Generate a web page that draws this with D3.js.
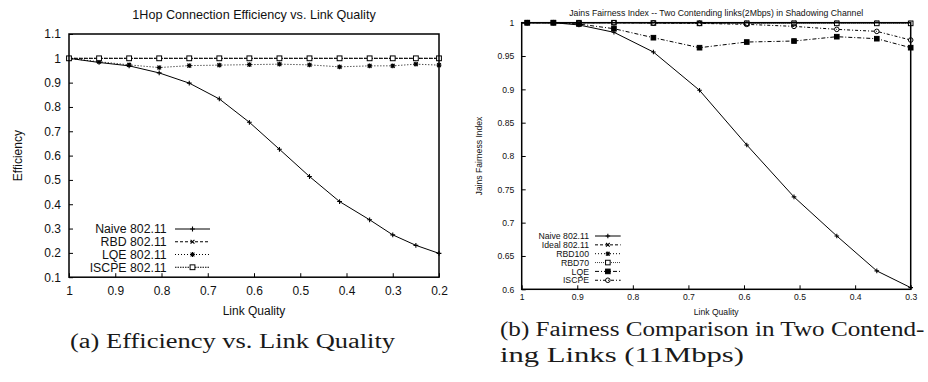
<!DOCTYPE html>
<html>
<head>
<meta charset="utf-8">
<script src="https://cdn.jsdelivr.net/npm/d3@7"></script>
<style>
  html, body { margin: 0; padding: 0; background: #fff; }
  svg { display: block; }
  .sans { font-family: "Liberation Sans", Arial, Helvetica, sans-serif; fill: #111; }
  .serif { font-family: "Liberation Serif", "Times New Roman", serif; fill: #1a1a1a; }
</style>
</head>
<body>
<svg id="fig" width="928" height="382"></svg>
<script>
// ---------- (a) efficiency vs. link quality ----------
const effLinkQuality = [1, 0.935, 0.87, 0.805, 0.74, 0.675, 0.61, 0.545, 0.48, 0.415, 0.35, 0.30, 0.25, 0.20];
const effNaive = [1.0, 0.983, 0.969, 0.940, 0.898, 0.833, 0.737, 0.626, 0.514, 0.411, 0.336, 0.274, 0.231, 0.198];
const effRBD   = [1.0, 1.0, 1.0, 1.0, 1.0, 1.0, 1.0, 1.0, 1.0, 1.0, 1.0, 1.0, 1.0, 1.0];
const effLQE   = [1.0, 0.986, 0.973, 0.962, 0.970, 0.972, 0.974, 0.976, 0.973, 0.965, 0.969, 0.969, 0.976, 0.972];
const effISCPE = [1.0, 1.0, 1.0, 1.0, 1.0, 1.0, 1.0, 1.0, 1.0, 1.0, 1.0, 1.0, 1.0, 1.0];
const effNames = ["Naive 802.11", "RBD 802.11", "LQE 802.11", "ISCPE 802.11"];
const effXTicks = [1, 0.9, 0.8, 0.7, 0.6, 0.5, 0.4, 0.3, 0.2];
const effYTicks = [0.1, 0.2, 0.3, 0.4, 0.5, 0.6, 0.7, 0.8, 0.9, 1.0, 1.1];

// ---------- (b) fairness, two contending links ----------
const fairLinkQuality = [0.99, 0.943, 0.897, 0.834, 0.763, 0.680, 0.595, 0.510, 0.433, 0.361, 0.30];
const fairNaive  = [1.0, 1.0, 0.9966, 0.9856, 0.956, 0.8986, 0.8166, 0.7386, 0.680, 0.6276, 0.6025];
const fairIdeal  = [1.0, 1.0, 1.0, 1.0, 1.0, 1.0, 1.0, 1.0, 1.0, 1.0, 1.0];
const fairRBD100 = [1.0, 1.0, 1.0, 1.0, 1.0, 1.0, 1.0, 1.0, 1.0, 1.0, 0.9995];
const fairRBD70  = [1.0, 1.0, 1.0, 1.0, 0.9995, 0.999, 0.999, 0.999, 0.999, 0.999, 0.999];
const fairLQE    = [1.0, 1.0, 0.998, 0.991, 0.9775, 0.9625, 0.971, 0.9725, 0.979, 0.976, 0.9625];
const fairISCPE  = [1.0, 1.0, 1.0, 1.0, 0.9995, 0.999, 0.9975, 0.9945, 0.990, 0.987, 0.974];
const fairNames = ["Naive 802.11", "Ideal 802.11", "RBD100", "RBD70", "LQE", "ISCPE"];
const fairXTicks = [1, 0.9, 0.8, 0.7, 0.6, 0.5, 0.4, 0.3];
const fairYTicks = [0.6, 0.65, 0.7, 0.75, 0.8, 0.85, 0.9, 0.95, 1.0];

const svg = d3.select("#fig");

// point glyphs in the gnuplot style
function glyph(type, s) {
  const plus = `M${-s},0H${s}M0,${-s}V${s}`;
  const cross = `M${-s*0.8},${-s*0.8}L${s*0.8},${s*0.8}M${-s*0.8},${s*0.8}L${s*0.8},${-s*0.8}`;
  switch (type) {
    case "plus": return plus;
    case "cross": return cross;
    case "star": return plus + cross;
    default: return "";
  }
}

function drawMarker(g, type, x, y, s) {
  if (type === "square" || type === "fsquare") {
    g.append("rect").attr("x", x - s).attr("y", y - s).attr("width", 2 * s).attr("height", 2 * s)
      .attr("fill", type === "fsquare" ? "#000" : "#fff").attr("stroke", "#000").attr("stroke-width", 1);
  } else if (type === "circle") {
    g.append("circle").attr("cx", x).attr("cy", y).attr("r", s)
      .attr("fill", "none").attr("stroke", "#000").attr("stroke-width", 1);
  } else {
    g.append("path").attr("d", glyph(type, s)).attr("transform", `translate(${x},${y})`)
      .attr("fill", "none").attr("stroke", "#000").attr("stroke-width", 1.1);
  }
}

function panel(cfg) {
  const g = svg.append("g");
  const x = d3.scaleLinear().domain(cfg.xDomain).range([cfg.left, cfg.right]);
  const y = d3.scaleLinear().domain(cfg.yDomain).range([cfg.bottom, cfg.top]);

  const xAxis = d3.axisBottom(x).tickValues(cfg.xTicks).tickFormat(d3.format("")).tickSizeInner(-4).tickSizeOuter(0).tickPadding(cfg.xPad);
  const yAxis = d3.axisLeft(y).tickValues(cfg.yTicks).tickFormat(d3.format("")).tickSizeInner(-4).tickSizeOuter(0).tickPadding(cfg.yPad);

  const gx = g.append("g").attr("transform", `translate(0,${cfg.bottom})`).call(xAxis);
  const gy = g.append("g").attr("transform", `translate(${cfg.left},0)`).call(yAxis);
  [gx, gy].forEach(a => {
    a.select(".domain").remove();
    a.selectAll("line").attr("stroke", "#000").attr("stroke-width", 1);
    a.selectAll("text").attr("class", "sans").attr("font-size", cfg.fs).attr("fill", "#111");
  });

  // series
  const line = d3.line().x(d => x(d[0])).y(d => y(d[1]));
  cfg.series.forEach(s => {
    const pts = cfg.xs.map((v, i) => [v, s.values[i]]);
    g.append("path").datum(pts).attr("d", line)
      .attr("fill", "none").attr("stroke", s.color || "#000").attr("stroke-width", 1)
      .attr("stroke-dasharray", s.dash || null);
    pts.forEach(p => drawMarker(g, s.marker, x(p[0]), y(p[1]), cfg.ms));
  });

  // frame
  g.append("rect").attr("x", cfg.left).attr("y", cfg.top)
    .attr("width", cfg.right - cfg.left).attr("height", cfg.bottom - cfg.top)
    .attr("fill", "none").attr("stroke", "#000").attr("stroke-width", 1.5);

  // legend
  cfg.series.forEach((s, i) => {
    const cy = cfg.legY + i * cfg.legStep;
    g.append("text").attr("class", "sans").attr("font-size", cfg.legFs)
      .attr("x", cfg.legTextX).attr("y", cy).attr("dy", "0.36em").attr("text-anchor", "end").text(s.name);
    g.append("line").attr("x1", cfg.legLine[0]).attr("x2", cfg.legLine[1]).attr("y1", cy).attr("y2", cy)
      .attr("stroke", s.color || "#000").attr("stroke-width", 1).attr("stroke-dasharray", s.dash || null);
    drawMarker(g, s.marker, (cfg.legLine[0] + cfg.legLine[1]) / 2, cy, cfg.ms);
  });

  // title and axis labels
  const cx = (cfg.left + cfg.right) / 2, cyMid = (cfg.top + cfg.bottom) / 2;
  g.append("text").attr("class", "sans").attr("font-size", cfg.titleFs)
    .attr("x", cx).attr("y", cfg.titleY).attr("text-anchor", "middle").text(cfg.title);
  g.append("text").attr("class", "sans").attr("font-size", cfg.fs)
    .attr("x", cx).attr("y", cfg.xLabelY).attr("text-anchor", "middle").text(cfg.xLabel);
  g.append("text").attr("class", "sans").attr("font-size", cfg.fs)
    .attr("transform", `translate(${cfg.yLabelX},${cyMid}) rotate(-90)`).attr("text-anchor", "middle").text(cfg.yLabel);
}

panel({
  id: "a", left: 69, right: 439, top: 34, bottom: 277.2,
  xDomain: [1, 0.2], yDomain: [0.1, 1.1], xTicks: effXTicks, yTicks: effYTicks,
  xPad: 9, yPad: 8, fs: 12, titleFs: 12.6, ms: 2.4,
  xs: effLinkQuality,
  series: [
    { name: effNames[0], values: effNaive, marker: "plus" },
    { name: effNames[1], values: effRBD, marker: "cross", dash: "3,2" },
    { name: effNames[2], values: effLQE, marker: "star", dash: "1,2" },
    { name: effNames[3], values: effISCPE, marker: "square", dash: "1.5,1" }
  ],
  legY: 229, legStep: 12.75, legFs: 12.3, legTextX: 166.7, legLine: [175, 210],
  title: "1Hop Connection Efficiency vs. Link Quality", titleY: 19,
  xLabel: "Link Quality", xLabelY: 314.5,
  yLabel: "Efficiency", yLabelX: 21.5
});

panel({
  id: "b", left: 521.7, right: 910.7, top: 22.7, bottom: 289.3,
  xDomain: [1, 0.3], yDomain: [0.6, 1.0], xTicks: fairXTicks, yTicks: fairYTicks,
  xPad: 5, yPad: 7.5, fs: 8.6, titleFs: 8.7, ms: 2.3,
  xs: fairLinkQuality,
  series: [
    { name: fairNames[0], values: fairNaive, marker: "plus" },
    { name: fairNames[1], values: fairIdeal, marker: "cross", dash: "3,2" },
    { name: fairNames[2], values: fairRBD100, marker: "star", dash: "1,2" },
    { name: fairNames[3], values: fairRBD70, marker: "square", dash: "1,1", color: "#444" },
    { name: fairNames[4], values: fairLQE, marker: "fsquare", dash: "4,2,1,2" },
    { name: fairNames[5], values: fairISCPE, marker: "circle", dash: "3,2,1,2" }
  ],
  legY: 236, legStep: 8.85, legFs: 8.7, legTextX: 589, legLine: [595, 620.7],
  title: "Jains Fairness Index -- Two Contending links(2Mbps) in Shadowing Channel", titleY: 16,
  xLabel: "Link Quality", xLabelY: 315,
  yLabel: "Jains Fairness Index", yLabelX: 482
});

// sub-figure captions
function caption(str, x0, x1, baseline) {
  svg.append("text").attr("class", "serif").attr("font-size", 20.5)
    .attr("x", x0).attr("y", baseline)
    .attr("textLength", x1 - x0).attr("lengthAdjust", "spacingAndGlyphs")
    .text(str);
}
caption("(a) Efficiency vs. Link Quality", 70, 395, 348);
caption("(b) Fairness Comparison in Two Contend-", 500, 924.5, 336);
caption("ing Links (11Mbps)", 500, 744, 361.5);
</script>
</body>
</html>
